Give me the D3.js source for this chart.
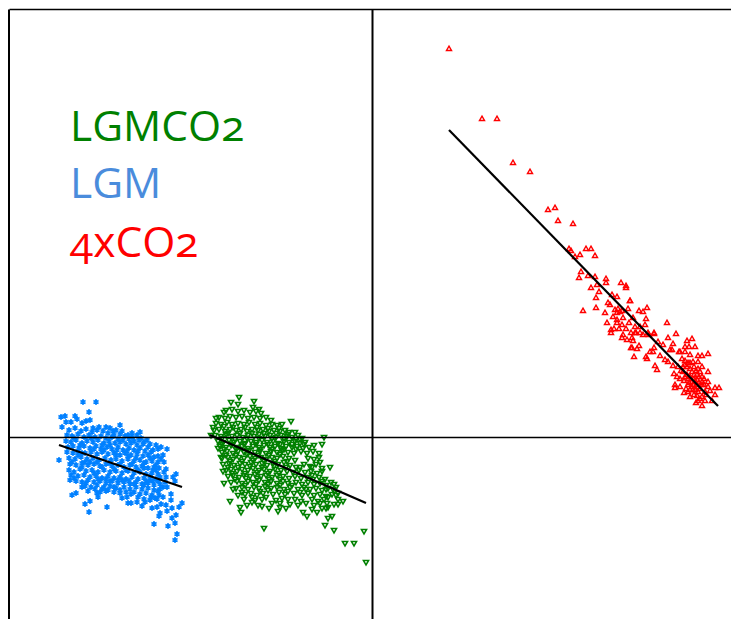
<!DOCTYPE html>
<html>
<head>
<meta charset="utf-8">
<script src="https://cdn.jsdelivr.net/npm/d3@7"></script>
<style>
  body { margin: 0; background: #fff; }
  svg { display: block; }
  .legend text { font-family: "Open Sans", sans-serif; font-feature-settings: "onum"; }
</style>
</head>
<body>
<div id="chart"></div>
<script>
// the source axes have no numbers so units are arbitrary
const xExtent = [-363, 359];
const yExtent = [-182, 428];

const legendLabels = ["LGMCO2", "LGM", "4xCO2"];

const lgmFit = [[-313, -8], [-190, -50]];
const lgmco2Fit = [[-162, 2], [-6, -66]];
const co2x4Fit = [[77, 307], [346, 31]];

const lgmPoints = [
  [-289,35],[-276,35],[-283,25],[-311,20],[-307,21],[-297,21],[-295,18],[-306,15],[-301,15],[-286,16],[-282,17],[-310,10],[-252,12],[-266,10],[-273,10],[-279,9],[-259,6],[-290,14],
  [-313,-23],[-302,-43],[-300,-58],[-296,-56],[-290,-50],[-287,-67],[-282,-64],[-283,-75],[-274,-60],[-275,-56],[-272,-55],[-265,-70],[-258,-55],[-252,-56],[-250,-61],[-245,-60],[-244,-66],[-241,-66],[-235,-65],[-230,-69],[-220,-71],[-215,-70],[-218,-87],[-213,-79],[-212,-76],[-204,-89],[-200,-81],[-197,-86],[-195,-97],[-197,-103],[-196,-78],[-205,-74],[-200,-71],[-193,-70],[-190,-66],[-201,-57],[-201,-63],[-209,-60],[-213,-58],[-196,-37],[-199,-40],[-197,-44],[-206,-32],[-208,-25],[-205,-12],[-211,-10],[-219,-13],[-222,-7],[-235,2],[-244,2],
  [-303,7],[-297,9],[-291,6],[-286,8],[-280,5],[-275,7],[-269,6],[-264,4],[-258,2],[-252,3],[-247,1],[-240,0],[-231,-1],
  [-305,2],[-300,1],[-294,3],[-288,0],[-283,2],[-277,0],[-271,1],[-266,-1],[-260,0],[-254,-2],[-249,-3],[-243,-2],[-238,-4],[-233,-3],[-228,-5],
  [-306,-4],[-301,-5],[-296,-3],[-290,-6],[-285,-4],[-279,-5],[-274,-3],[-268,-6],[-263,-4],[-257,-6],[-252,-5],[-246,-7],[-241,-6],[-235,-8],[-229,-7],[-224,-10],
  [-304,-10],[-299,-9],[-293,-11],[-288,-9],[-282,-11],[-276,-9],[-271,-12],[-265,-10],[-260,-12],[-254,-10],[-249,-13],[-243,-11],[-238,-13],[-232,-11],[-227,-14],[-221,-15],
  [-305,-15],[-299,-16],[-294,-14],[-287,-16],[-281,-15],[-275,-17],[-270,-15],[-264,-17],[-258,-16],[-252,-18],[-247,-16],[-241,-18],[-235,-17],[-229,-19],[-224,-18],[-218,-20],[-214,-19],
  [-303,-21],[-297,-22],[-291,-20],[-285,-22],[-279,-21],[-273,-23],[-267,-21],[-261,-23],[-256,-22],[-250,-24],[-244,-22],[-238,-24],[-232,-23],[-226,-25],[-220,-24],[-214,-25],[-211,-22],
  [-302,-27],[-296,-28],[-290,-26],[-284,-28],[-278,-27],[-272,-29],[-266,-27],[-260,-29],[-254,-28],[-248,-30],[-242,-28],[-236,-30],[-230,-29],[-224,-31],[-218,-30],[-213,-31],
  [-303,-33],[-298,-35],[-292,-32],[-286,-34],[-280,-33],[-274,-35],[-268,-33],[-262,-35],[-256,-34],[-250,-36],[-244,-34],[-238,-36],[-232,-35],[-226,-37],[-220,-36],[-214,-37],
  [-301,-38],[-294,-39],[-288,-38],[-282,-40],[-276,-39],[-270,-41],[-264,-39],[-258,-41],[-252,-40],[-246,-42],[-240,-40],[-234,-42],[-228,-41],[-222,-43],[-216,-42],[-212,-40],
  [-296,-44],[-290,-45],[-284,-43],[-278,-45],[-272,-44],[-266,-46],[-260,-44],[-254,-46],[-248,-45],[-242,-47],[-236,-45],[-230,-47],[-224,-46],[-218,-48],[-212,-47],[-207,-45],
  [-287,-49],[-281,-50],[-275,-48],[-268,-50],[-262,-49],[-256,-51],[-248,-50],[-242,-52],[-236,-50],[-230,-52],[-224,-51],[-218,-53],[-212,-52],
  [-284,-54],[-264,-53],[-246,-55],[-238,-55],[-232,-57],[-226,-56],[-220,-58],[-214,-54],[-228,-62],[-222,-63],[-217,-61],[-211,-67],[-206,-68],
  [-298,-1],[-292,-8],[-281,-1],[-270,-8],[-262,-8],[-255,-13],[-245,-14],[-236,-21],[-228,-26],[-219,-33],[-294,-18],[-282,-25],[-270,-30],[-258,-32],[-246,-33],[-234,-33],[-222,-39],[-290,-30],[-278,-36],[-266,-42],[-254,-43],[-243,-44],[-228,-48],[-219,-44],
  [-270,-52],[-258,-50],[-277,-52],[-266,-54],[-252,-53],[-241,-57],[-234,-60],[-227,-65],[-221,-60],[-215,-62],[-209,-50],[-205,-50],[-206,-40],[-208,-35],[-209,-18],[-214,-12],[-216,-8],[-225,-3],[-232,5],[-240,4],[-250,6],[-256,7],[-262,9],
  [-300,-25],[-287,-25],[-275,-25],[-263,-26],[-252,-27],[-240,-27],[-228,-31],[-216,-33],[-298,-41],[-286,-46],[-274,-42],[-262,-44],[-250,-43],[-238,-47],[-226,-44],[-214,-44],[-290,-16],[-278,-12],[-268,-13],[-256,-18],[-244,-19],[-234,-14],[-222,-21],[-216,-28]
];

const lgmco2Points = [
  [-133,40],[-118,36],[-141,35],[-134,33],[-119,30],[-113,28],[-81,16],[-77,5],[-48,0],[-50,-7],[-42,-30],[-50,-31],[-142,-64],[-132,-70],[-131,-75],[-125,-68],[-108,-91],[-103,-71],[-94,-74],[-86,-71],[-82,-67],[-55,-75],[-65,-79],[-69,-75],[-44,-81],[-40,-79],[-47,-88],[-38,-93],[-27,-106],[-18,-106],[-8,-94],[-6,-125],[-29,-64],[-34,-67],[-38,-67],[-36,-58],[-45,-66],[-50,-71],[-46,-71],[-161,2],[-159,10],[-156,19],[-148,25],[-154,-11],[-151,-20],[-149,-34],[-148,-46],[-139,-52],
  [-146,27],[-140,28],[-134,26],[-128,27],[-122,25],[-116,26],[-111,24],
  [-153,20],[-147,19],[-142,21],[-136,20],[-130,21],[-124,19],[-118,20],[-112,19],[-106,20],[-101,17],
  [-156,14],[-151,13],[-145,15],[-140,13],[-134,14],[-128,13],[-123,15],[-117,13],[-112,14],[-106,12],[-100,13],[-95,12],[-90,13],
  [-158,7],[-153,8],[-147,6],[-142,8],[-136,7],[-131,8],[-125,6],[-120,8],[-114,7],[-109,8],[-103,6],[-98,7],[-92,6],[-87,7],[-83,5],
  [-157,2],[-151,1],[-146,3],[-140,1],[-135,2],[-129,0],[-124,2],[-118,1],[-113,3],[-107,1],[-102,2],[-96,0],[-91,2],[-85,1],[-80,0],[-74,2],[-70,-1],
  [-154,-4],[-149,-5],[-143,-3],[-138,-5],[-132,-4],[-127,-6],[-121,-4],[-116,-5],[-110,-3],[-105,-5],[-99,-4],[-94,-6],[-88,-4],[-83,-5],[-77,-4],[-72,-6],[-67,-5],
  [-152,-9],[-146,-10],[-141,-8],[-135,-10],[-130,-9],[-124,-11],[-119,-9],[-113,-10],[-108,-8],[-102,-10],[-97,-9],[-91,-11],[-86,-9],[-80,-10],[-75,-9],[-69,-11],[-63,-10],[-58,-8],
  [-150,-15],[-145,-14],[-139,-16],[-134,-14],[-128,-15],[-123,-13],[-117,-15],[-112,-14],[-106,-16],[-101,-14],[-95,-15],[-90,-13],[-84,-15],[-78,-16],[-71,-14],[-65,-16],[-59,-14],[-53,-16],
  [-150,-21],[-144,-20],[-139,-22],[-133,-20],[-128,-21],[-122,-19],[-117,-21],[-111,-20],[-106,-22],[-100,-20],[-95,-21],[-89,-19],[-83,-21],[-77,-23],[-64,-21],[-58,-22],[-53,-20],
  [-149,-27],[-143,-26],[-138,-28],[-132,-26],[-127,-27],[-121,-25],[-116,-27],[-110,-26],[-105,-28],[-99,-26],[-94,-27],[-88,-25],[-82,-28],[-76,-30],[-68,-27],[-62,-29],[-56,-27],[-52,-25],
  [-146,-33],[-141,-32],[-135,-34],[-130,-32],[-124,-33],[-119,-31],[-113,-33],[-108,-32],[-102,-34],[-97,-32],[-91,-33],[-85,-34],[-79,-35],[-73,-33],[-67,-35],[-61,-34],[-55,-36],
  [-144,-39],[-139,-38],[-133,-40],[-128,-38],[-122,-39],[-117,-37],[-111,-39],[-106,-38],[-100,-40],[-95,-38],[-89,-39],[-83,-41],[-77,-39],[-71,-41],[-65,-40],[-59,-42],[-53,-40],[-47,-42],
  [-141,-45],[-135,-44],[-130,-46],[-124,-44],[-119,-45],[-113,-43],[-107,-45],[-101,-44],[-95,-46],[-89,-44],[-84,-46],[-76,-45],[-70,-47],[-64,-45],[-58,-47],[-52,-46],[-46,-48],[-41,-45],
  [-136,-51],[-130,-50],[-124,-52],[-118,-50],[-113,-51],[-107,-49],[-101,-51],[-95,-50],[-88,-52],[-82,-50],[-74,-52],[-68,-50],[-62,-52],[-56,-51],[-50,-53],[-44,-51],[-39,-52],
  [-127,-57],[-121,-56],[-115,-58],[-109,-56],[-99,-57],[-93,-55],[-87,-57],[-78,-56],[-70,-58],[-64,-56],[-58,-58],[-52,-57],[-46,-59],[-40,-57],
  [-117,-63],[-110,-62],[-96,-63],[-90,-61],[-77,-62],[-71,-64],[-60,-62],[-54,-64],[-48,-62],[-44,-60],
  [-148,11],[-139,10],[-127,10],[-115,10],[-104,9],[-93,9],[-150,-1],[-137,-2],[-125,-1],[-113,-1],[-100,-1],[-88,-1],[-76,-2],[-148,-12],[-136,-12],[-125,-13],[-112,-12],[-100,-12],[-88,-12],[-76,-12],
  [-146,-18],[-136,-18],[-125,-17],[-114,-18],[-103,-18],[-92,-17],[-142,-24],[-130,-24],[-119,-23],[-108,-24],[-97,-24],[-85,-24],[-140,-36],[-127,-36],[-115,-35],[-104,-36],[-93,-36],[-137,-42],[-126,-41],[-115,-41],[-103,-42],[-92,-42],[-127,-48],[-116,-47],[-104,-47],[-92,-48],[-112,-54],[-104,-53],[-84,-54],[-72,-55],
  [-150,-7],[-140,-7],[-128,-7],[-116,-7],[-104,-7],[-92,-7],[-80,-7],[-68,-7],[-144,4],[-132,4],[-120,4],[-108,4],[-96,4],[-84,3],[-72,-2],[-144,-30],[-134,-30],[-122,-29],[-110,-30],[-98,-29],[-86,-30],[-72,-30],[-60,-30],[-50,-34],[-60,-38],[-50,-44],[-46,-52],[-38,-47],[-34,-56],[-36,-50],[-80,-48],[-66,-52],
  [-120,-65],[-106,-60],[-100,-66],[-92,-66],[-84,-62],[-74,-68],[-66,-66],[-58,-68],[-52,-66],[-114,-68],[-120,-60],[-134,-58],[-130,-55],[-128,-62],[-92,-70],[-60,-72],[-44,-70],[-34,-62],[-110,-69]
];

const co2x4Points = [
  [77,388],[110,318],[125,318],[141,274],[158,265],[176,227],[183,229],[186,216],[201,213],[197,188],[199,186],[214,188],[219,188],[223,181],[208,182],[203,180],[209,165],[207,159],[216,161],[223,160],[219,149],[224,139],[227,145],[225,152],
  [234,158],[234,154],[249,154],[254,151],[254,149],[258,136],[211,126],[224,129],[258,136],[236,134],[233,124],[240,142],[245,140],[238,132],[248,125],[243,127],[246,128],[256,128],[267,126],[271,125],[275,129],
  [241,120],[245,117],[251,119],[257,114],[274,118],[235,114],[245,114],[250,112],[261,119],[273,112],[239,107],[239,104],[263,110],[295,114],[268,110],[276,104],[282,103],[304,103],[263,104],
  [260,99],[251,102],[250,99],[255,97],[261,96],[264,104],[268,104],[271,102],[277,102],[282,104],[296,99],[286,95],[317,90],[320,98],[301,93],[315,96],
  [260,89],[259,89],[265,88],[267,91],[278,85],[282,89],[291,92],[298,87],[307,85],[313,90],[323,90],[262,80],[274,80],[275,78],[281,85],[288,81],[293,77],[296,75],[300,87],[308,85],[313,85],[318,82],[326,81],[330,81],[336,83],
  [283,71],[285,67],[301,71],[311,70],[316,74],[321,75],[326,75],[330,70],[336,65],[302,63],[305,60],[311,65],[315,62],[320,65],[325,62],[330,60],[320,55],[325,57],[330,55],[332,52],
  [303,52],[303,49],[308,50],[316,52],[321,52],[323,47],[330,52],[336,50],[343,49],[347,49],[312,44],[316,45],[321,47],[326,45],[333,45],[343,42],[325,41],[330,40],[333,36],[324,34],[330,31],[340,36],
  [315,70],[318,68],[322,70],[326,68],[318,60],[322,62],[328,65],[316,58],[320,50],[326,50],[312,56],[308,58],[328,48],[322,42],[318,40],[334,42],[332,58],[336,55],[338,46],[328,38],[326,36],
  [310,78],[313,76],[306,70],[309,66],[313,72],[318,74],[324,66],[327,60],[323,56],[327,54],[313,60],[317,54],[322,58],[325,52],[314,48],[318,47],[245,124],[250,126],[242,108],[247,108],[254,108],[259,104]
];

const width = 731;
const height = 619;

const x = d3.scaleLinear().domain(xExtent).range([9, 731]);
const y = d3.scaleLinear().domain(yExtent).range([619, 9]);

const svg = d3
  .select("#chart")
  .append("svg")
  .attr("width", width)
  .attr("height", height)
  .attr("viewBox", [0, 0, width, height]);

const triangle = d3.symbol().type(d3.symbolTriangle).size(11);
const asterisk = d3.symbol().type(d3.symbolAsterisk).size(24);

// LGM
svg
  .append("g")
  .attr("fill", "none")
  .attr("stroke", "#0080ff")
  .attr("stroke-width", 1.5)
  .selectAll("path")
  .data(lgmPoints)
  .join("path")
  .attr("d", asterisk)
  .attr("transform", (d) => `translate(${x(d[0])},${y(d[1])})`);

// LGMCO2, triangles point down
svg
  .append("g")
  .attr("fill", "none")
  .attr("stroke", "#008000")
  .attr("stroke-width", 1.6)
  .selectAll("path")
  .data(lgmco2Points)
  .join("path")
  .attr("d", triangle)
  .attr("transform", (d) => `translate(${x(d[0])},${y(d[1])}) rotate(180)`);

// 4xCO2
svg
  .append("g")
  .attr("fill", "none")
  .attr("stroke", "#ff0000")
  .attr("stroke-width", 1.4)
  .selectAll("path")
  .data(co2x4Points)
  .join("path")
  .attr("d", triangle)
  .attr("transform", (d) => `translate(${x(d[0])},${y(d[1])})`);

// frame and zero lines, no ticks on any of them
const noTicks = (axis) => axis.tickValues([]).tickSize(0);
const frame = [
  [d3.axisBottom(x), 0, y(0), 1.5],
  [d3.axisBottom(x), 0, 9, 1.5],
  [d3.axisLeft(y), 8.5, 0, 2],
  [d3.axisLeft(y), x(0), 0, 2],
];
frame.forEach(([axis, tx, ty, w]) => {
  svg
    .append("g")
    .attr("transform", `translate(${tx},${ty})`)
    .call(noTicks(axis))
    .select(".domain")
    .attr("stroke", "#000")
    .attr("stroke-width", w);
});

const line = d3
  .line()
  .x((d) => x(d[0]))
  .y((d) => y(d[1]));

svg
  .append("g")
  .attr("fill", "none")
  .attr("stroke", "#000")
  .attr("stroke-width", 2.2)
  .selectAll("path")
  .data([lgmFit, lgmco2Fit, co2x4Fit])
  .join("path")
  .attr("d", line);

const legendColors = ["#008000", "#4a8cdc", "#ff0000"];
const legendBaselines = [141, 198, 257];

svg
  .append("g")
  .attr("class", "legend")
  .selectAll("text")
  .data(legendLabels)
  .join("text")
  .attr("x", 70)
  .attr("y", (d, i) => legendBaselines[i])
  .attr("font-size", 42.5)
  .attr("fill", (d, i) => legendColors[i])
  .text((d) => d);
</script>
</body>
</html>
